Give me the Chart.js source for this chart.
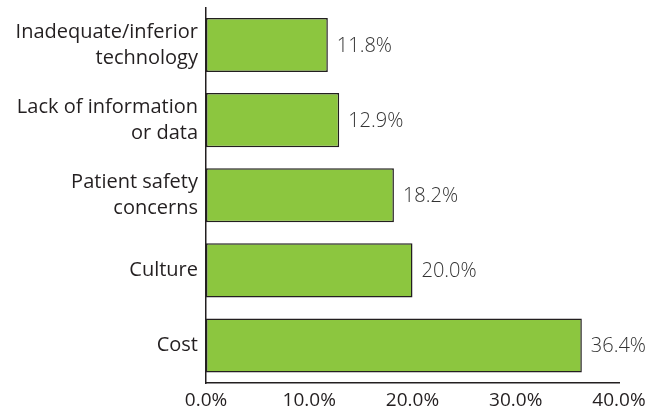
<!DOCTYPE html>
<html>
<head>
<meta charset="utf-8">
<script src="https://cdn.jsdelivr.net/npm/chart.js@4/dist/chart.umd.min.js"></script>
<style>
  html, body { margin: 0; padding: 0; background: #fff; }
  #wrap { width: 650px; height: 412px; position: relative; }
</style>
</head>
<body>
<div id="wrap"><canvas id="chart"></canvas></div>
<script>
// Barriers chart: share of respondents per barrier
var categories = [
    ['Inadequate/inferior', 'technology'],
    ['Lack of information', 'or data'],
    ['Patient safety', 'concerns'],
    'Culture',
    'Cost'
];
var shares = [11.8, 12.9, 18.2, 20.0, 36.4];
var xTicks = [0, 10, 20, 30, 40];

var BAR_GREEN = '#8cc63f';
var INK = '#231f20';
var FONT = "'Open Sans', 'Noto Sans', sans-serif";

// value labels just right of each bar end
var valueLabels = {
    id: 'valueLabels',
    afterDatasetsDraw: function (chart) {
        var ctx = chart.ctx;
        var meta = chart.getDatasetMeta(0);
        ctx.save();
        ctx.font = '300 20px ' + FONT;
        ctx.fillStyle = '#333333';
        ctx.textAlign = 'left';
        ctx.textBaseline = 'middle';
        meta.data.forEach(function (bar, i) {
            ctx.fillText(shares[i].toFixed(1) + '%', bar.x + 9, bar.y + 1);
        });
        ctx.restore();
    }
};

new Chart(document.getElementById('chart'), {
    type: 'bar',
    data: {
        labels: categories,
        datasets: [{
            data: shares,
            backgroundColor: BAR_GREEN,
            borderColor: INK,
            borderWidth: 1.5,
            borderSkipped: false,
            barPercentage: 0.72,
            categoryPercentage: 1
        }]
    },
    options: {
        indexAxis: 'y',
        responsive: true,
        maintainAspectRatio: false,
        animation: false,
        layout: { padding: { top: 7.5, right: 31, bottom: 0, left: 0 } },
        scales: {
            x: {
                min: 0,
                max: 40,
                afterBuildTicks: function (axis) {
                    axis.ticks = xTicks.map(function (v) { return { value: v }; });
                },
                afterFit: function (axis) {
                    axis.height = 29;
                    axis.paddingLeft = 0;
                    axis.paddingRight = 0;
                },
                grid: { display: false, drawTicks: false },
                border: { display: true, color: INK, width: 1.5 },
                ticks: {
                    color: '#231f20',
                    font: { family: FONT, size: 19 },
                    padding: 6,
                    maxRotation: 0,
                    callback: function (v) { return Number(v).toFixed(1) + '%'; }
                }
            },
            y: {
                afterFit: function (axis) {
                    axis.width = 206;
                    axis.paddingTop = 0;
                    axis.paddingBottom = 0;
                },
                grid: { display: false, drawTicks: false },
                border: { display: true, color: INK, width: 1.5 },
                ticks: {
                    color: '#231f20',
                    font: { family: FONT, size: 20, lineHeight: 1.3 },
                    padding: 8
                }
            }
        },
        plugins: {
            legend: { display: false },
            tooltip: { enabled: false }
        }
    },
    plugins: [valueLabels]
});
</script>
</body>
</html>
